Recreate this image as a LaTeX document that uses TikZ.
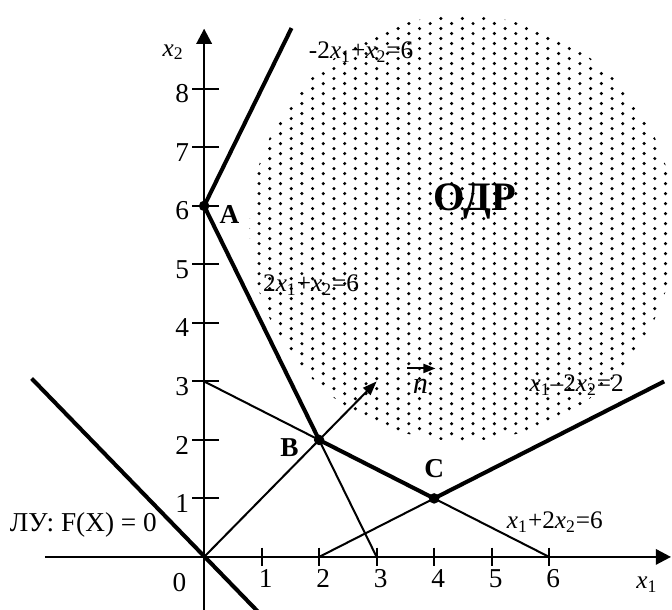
\documentclass[tikz,border=0pt]{standalone}
\usepackage{fontspec}
\setmainfont{Liberation Serif}
\usetikzlibrary{positioning, arrows.meta}

\newcommand{\xv}[1]{\textit{x}\textsubscript{#1}}

\tikzset{
  bold line/.style={line width=2pt, line join=round},
  thin line/.style={line width=1pt},
  axis line/.style={line width=1.3pt, -{Triangle[length=7.5pt,width=7.5pt]}},
  lbl/.style={font=\fontsize{12.5}{14}\selectfont, inner sep=1pt},
  ticklbl/.style={font=\fontsize{13.5}{15}\selectfont, inner sep=1pt},
  ptlbl/.style={font=\fontsize{13.5}{15}\selectfont\bfseries, inner sep=1pt},
}

\begin{document}
\begin{tikzpicture}[x=1cm, y=1.0174cm]
        \useasboundingbox (-3.55,-0.906) rectangle (8.137,9.52);

        % dotted region
        \begin{scope}
            \clip (4.49,5.62) circle (3.7cm);
            \foreach \i in {0,...,40}
                \foreach \j in {0,...,44}
                    \fill ({0.77+0.186*\i},{1.85+0.171*\j+0.0855*mod(\i,2)}) circle (0.03cm);
        \end{scope}

        \coordinate (O) at (0,0);
        \coordinate (A) at (0,6);
        \coordinate (B) at (2,2);
        \coordinate (C) at (4,1);
        \coordinate (P3) at (0,3);
        \coordinate (Q2) at (2,0);
        \coordinate (Q3) at (3,0);
        \coordinate (Q6) at (6,0);
        \coordinate (E1) at (1.52,9.04);
        \coordinate (E2) at (8,3);
        \coordinate (L1) at (-3,3.05);
        \coordinate (L2) at (0.98,-0.98);
        \coordinate (N) at (3,3);

        % axes
        \draw[axis line] (-2.77,0) -- (8.12,0);
        \draw[axis line] (0,-0.95) -- (0,9.03);
        \foreach \x in {1,...,6}
            \draw[thin line] (\x,0.16) -- (\x,-0.16) node[ticklbl, below, xshift=2pt] (xt\x) {\x};
        \foreach \y in {1,...,8}
            \draw[thin line] (0.26,\y) -- (-0.21,\y) node[ticklbl, left, yshift=-2.5pt] (yt\y) {\y};
        \node[ticklbl] (zero) at (-0.43,-0.43) {0};
        \node[lbl] (xone) at (7.7,-0.48) {\xv{1}};
        \node[lbl] (xtwo) at (-0.54,8.63) {\xv{2}};

        % constraint lines
        \draw[thin line] (P3) -- (B);
        \draw[thin line] (C) -- (Q6);
        \draw[thin line] (Q2) -- (C);
        \draw[thin line] (B) -- (Q3);
        \draw[bold line] (E1) -- (A) -- (B) -- (C) -- (E2);
        \draw[bold line] (L1) -- (L2);
        \draw[thin line, -{Triangle[length=7pt,width=5pt]}] (O) -- (N);

        % vertices
        \foreach \p in {A,B,C}
            \fill (\p) circle (2.6pt);
        \node[ptlbl, right=6.5pt of A, yshift=-4pt] (labA) {A};
        \node[ptlbl, left=9pt of B, yshift=-4pt] (labB) {B};
        \node[ptlbl, above=9pt of C] (labC) {C};

        % labels
        \node[lbl] (eq1) at (2.73,8.63) {-2\xv{1}+\xv{2}=6};
        \node[lbl] (eq2) at (1.86,4.65) {2\xv{1}+\xv{2}=6};
        \node[lbl] (eq3) at (6.48,2.94) {\xv{1}--2\xv{2}=2};
        \node[lbl] (eq4) at (6.1,0.6) {\xv{1}+2\xv{2}=6};
        \node[ticklbl] (ly) at (-2.1,0.55) {ЛУ: F(X) = 0};
        \node[font=\fontsize{20}{22}\selectfont\bfseries] (odr) at (4.71,6.07) {ОДР};
        \node[font=\fontsize{15}{17}\selectfont\itshape, inner sep=1pt] (nvec) at (3.76,2.92) {n};
        \draw[thin line, -{Triangle[length=6pt,width=4.5pt]}]
            ([xshift=-6.5pt,yshift=4pt]nvec.north) -- ++(14pt,0);
    \end{tikzpicture}
\end{document}
